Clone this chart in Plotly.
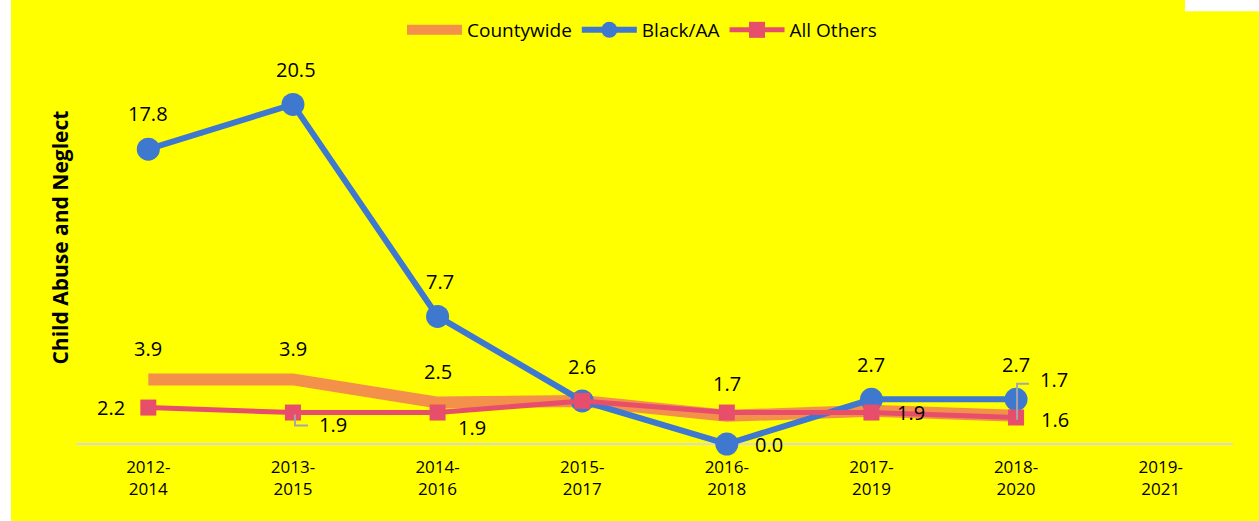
import plotly.graph_objects as go

categories = ["2012-<br>2014", "2013-<br>2015", "2014-<br>2016", "2015-<br>2017",
              "2016-<br>2018", "2017-<br>2019", "2018-<br>2020", "2019-<br>2021"]
countywide = [3.9, 3.9, 2.5, 2.6, 1.7, 2.0, 1.7, None]
black_aa = [17.8, 20.5, 7.7, 2.6, 0.0, 2.7, 2.7, None]
all_others = [2.2, 1.9, 1.9, 2.6, 1.9, 1.9, 1.6, None]

FONT = "Open Sans"
ORANGE = "#F3914B"
BLUE = "#3E78CF"
RED = "#E64E6C"

fig = go.Figure()
fig.add_trace(go.Scatter(x=categories, y=countywide, name="Countywide", mode="lines",
                         line=dict(color=ORANGE, width=12), cliponaxis=False))
fig.add_trace(go.Scatter(x=categories, y=black_aa, name="Black/AA", mode="lines+markers",
                         line=dict(color=BLUE, width=6),
                         marker=dict(symbol="circle", size=23, color=BLUE), cliponaxis=False))
fig.add_trace(go.Scatter(x=categories, y=all_others, name="All Others", mode="lines+markers",
                         line=dict(color=RED, width=5),
                         marker=dict(symbol="square", size=16, color=RED), cliponaxis=False))

# label offsets (xshift, yshift) per point; None = no label
blue_off = [(0, 36), (3, 35), (2, 35), None, (42, 0), (0, 35), (0, 35), None]
county_off = [(0, 31), (0, 31), (0, 31), (0, 34), (0, 32), None, (38, 36), None]
other_off = [(-37, 0), (40, -12), (34, -15), None, None, (40, 0), (39, -2), None]

annots = []
for vals, offs in ((black_aa, blue_off), (countywide, county_off), (all_others, other_off)):
    for c, v, o in zip(categories, vals, offs):
        if o is None or v is None:
            continue
        annots.append(dict(x=c, y=v, xref="x", yref="y", text=f"{v:.1f}", showarrow=False,
                           xshift=o[0], yshift=o[1], font=dict(family=FONT, size=20, color="black")))

annots.append(dict(xref="paper", yref="paper", x=(60 - 76) / 1157, y=(444 - 237) / 382,
                   xanchor="center", yanchor="middle",
                   text="<b>Child Abuse and Neglect</b>", textangle=-90, showarrow=False,
                   font=dict(family=FONT, size=21, color="black")))

shapes = [
    dict(type="rect", xref="paper", yref="paper", x0=-0.07, x1=(11 - 76) / 1157, y0=-0.3, y1=1.2,
         fillcolor="white", line=dict(width=0), layer="below"),
    dict(type="rect", xref="paper", yref="paper", x0=(1185 - 76) / 1157, x1=1.1,
         y0=(444 - 10) / 382, y1=1.2, fillcolor="white", line=dict(width=0), layer="below"),
    dict(type="path", xref="x", yref="y", xsizemode="pixel", ysizemode="pixel",
         xanchor=categories[1], yanchor=all_others[1],
         path="M 2 -2 L 2 -13 L 15 -13", line=dict(color="#A6A6A6", width=2)),
    dict(type="path", xref="x", yref="y", xsizemode="pixel", ysizemode="pixel",
         xanchor=categories[6], yanchor=countywide[6],
         path="M 1 -4 L 1 32 L 13 32", line=dict(color="#A6A6A6", width=2)),
]

fig.update_layout(
    width=1259, height=521,
    paper_bgcolor="#FFFF00", plot_bgcolor="#FFFF00",
    margin=dict(l=76, r=26, t=62, b=77),
    font=dict(family=FONT, color="black"),
    showlegend=True,
    legend=dict(orientation="h", x=(642 - 76) / 1157, xanchor="center", y=(444 - 30) / 382,
                yanchor="middle", itemwidth=55,
                font=dict(family=FONT, size=19, color="black"), bgcolor="rgba(0,0,0,0)",
                tracegroupgap=0),
    xaxis=dict(type="category", showgrid=False, zeroline=False, showline=False,
               ticks="", tickfont=dict(family=FONT, size=17, color="black"),
               ticklabelstandoff=11, range=[-0.5, 7.5]),
    yaxis=dict(range=[0, 23], showgrid=False, zeroline=True, zerolinecolor="#D9D9D9",
               zerolinewidth=2, showticklabels=False, ticks="", showline=False),
    annotations=annots, shapes=shapes,
)

fig.write_html("out.html", config={"displayModeBar": False},
               post_script="document.body.style.margin='0px';")
